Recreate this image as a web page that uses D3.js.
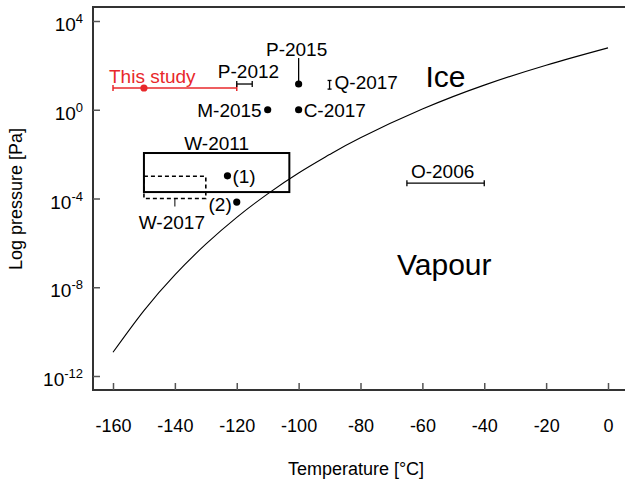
<!DOCTYPE html>
<html>
<head>
<meta charset="utf-8">
<script src="https://cdn.jsdelivr.net/npm/d3@7"></script>
<style>
  body { margin: 0; background: #fff; }
  svg { font-family: "Liberation Sans", Arial, sans-serif; }
</style>
</head>
<body>
<div id="chart"></div>
<script>
// axis ticks
const tempTicks = [-160, -140, -120, -100, -80, -60, -40, -20, 0];
const pressureExps = [4, 0, -4, -8, -12];

// ice / vapour boundary (log10 Pa)
const curveTemps = [-160, -150, -140, -130, -120, -110, -100, -90, -80, -60, -40, -20, 0];
const curveLogP = [-10.93, -9.05, -7.44, -6.06, -4.85, -3.79, -2.85, -2.02, -1.26, 0.03, 1.11, 2.01, 2.79];

// single points
const pointNames = ["This study", "P-2015", "M-2015", "C-2017", "(1)", "(2)"];
const pointTemps = [-150, -100, -110, -100, -123, -120];
const pointLogP = [0.98, 1.16, 0, 0, -2.98, -4.16];

// horizontal ranges (temperature)
const rangeNames = ["This study", "P-2012", "O-2006"];
const rangeLo = [-160, -120, -65];
const rangeHi = [-120, -115, -40];
const rangeLogP = [0.98, 1.16, -3.31];

// vertical ranges (pressure)
const vrangeNames = ["P-2015", "Q-2017"];
const vrangeTemps = [-100, -90];
const vrangeLo = [1.16, 0.93];
const vrangeHi = [2.33, 1.32];

// boxes
const boxNames = ["W-2011", "W-2017"];
const boxTLo = [-150, -150];
const boxTHi = [-103, -130];
const boxPLo = [-3.71, -4.0];
const boxPHi = [-1.95, -3.0];

function drawChart(id) {
  const w = 625;
  const h = 484;
  const red = "#e8282b";
  const left = 93, top = 7, bottom = 390;

  const svg = d3.select(`#${id}`).append("svg")
    .attr("width", w).attr("height", h);

  const x = d3.scaleLinear().domain([-160, 0]).range([113, 608]);
  const y = d3.scaleLog().domain([1e-12, 1e4]).range([376, 21]);
  const yl = (v) => y(Math.pow(10, v));

  // frame: left, top, bottom
  svg.append("path")
    .attr("d", `M${w + 10},${top}H${left}V${bottom}H${w + 10}`)
    .attr("fill", "none").attr("stroke", "#333").attr("stroke-width", 2);

  // x axis
  const xAxis = svg.append("g")
    .attr("transform", `translate(0,${bottom})`)
    .call(d3.axisBottom(x).tickValues(tempTicks).tickSizeInner(-7).tickSizeOuter(0).tickPadding(29).tickFormat(d3.format("d")));
  xAxis.select(".domain").remove();
  xAxis.selectAll("line").attr("stroke", "#555").attr("stroke-width", 1.5);
  xAxis.selectAll("text").attr("font-size", 18).attr("fill", "#000")
    .attr("font-family", "Liberation Sans, Arial, sans-serif").text((d) => d === 0 ? "0" : "-" + Math.abs(d));

  // y axis
  const yAxis = svg.append("g")
    .attr("transform", `translate(${left},0)`)
    .call(d3.axisLeft(y).tickValues(pressureExps.map((e) => Math.pow(10, e))).tickSizeInner(-7).tickSizeOuter(0).tickFormat(""));
  yAxis.select(".domain").remove();
  yAxis.selectAll("line").attr("stroke", "#555").attr("stroke-width", 1.5);

  const yLab = svg.append("g").selectAll("text")
    .data(pressureExps).enter().append("text")
    .attr("x", 83).attr("y", (d) => yl(d) + 10)
    .attr("text-anchor", "end").attr("font-size", 19);
  yLab.append("tspan").text("10");
  yLab.append("tspan").attr("font-size", 13).attr("dy", -8).text((d) => d);

  // axis titles
  svg.append("text").attr("x", 356).attr("y", 475)
    .attr("text-anchor", "middle").attr("font-size", 18).text("Temperature [°C]");
  svg.append("text").attr("transform", "translate(22,199) rotate(-90)")
    .attr("text-anchor", "middle").attr("font-size", 18).text("Log pressure [Pa]");

  // boundary curve
  const line = d3.line()
    .x((d, i) => x(curveTemps[i]))
    .y((d) => yl(d))
    .curve(d3.curveNatural);
  svg.append("path").datum(curveLogP).attr("d", line)
    .attr("fill", "none").attr("stroke", "#000").attr("stroke-width", 1.1);

  // boxes
  boxNames.forEach((name, i) => {
    const r = svg.append("rect")
      .attr("x", x(boxTLo[i])).attr("y", yl(boxPHi[i]))
      .attr("width", x(boxTHi[i]) - x(boxTLo[i]))
      .attr("height", yl(boxPLo[i]) - yl(boxPHi[i]))
      .attr("fill", "none").attr("stroke", "#000");
    if (name === "W-2017") {
      r.attr("stroke-width", 1.6).attr("stroke-dasharray", "4,3");
    } else {
      r.attr("stroke-width", 2);
    }
  });
  svg.append("text").attr("x", (x(boxTLo[0]) + x(boxTHi[0])) / 2).attr("y", yl(boxPHi[0]) - 3)
    .attr("text-anchor", "middle").attr("font-size", 19).text(boxNames[0]);
  const w17x = x(-140);
  svg.append("line").attr("x1", w17x).attr("x2", w17x)
    .attr("y1", yl(boxPLo[1])).attr("y2", yl(boxPLo[1]) + 8)
    .attr("stroke", "#000").attr("stroke-width", 1);
  svg.append("text").attr("x", w17x - 3).attr("y", yl(boxPLo[1]) + 30)
    .attr("text-anchor", "middle").attr("font-size", 19).text(boxNames[1]);

  // horizontal ranges
  rangeNames.forEach((name, i) => {
    const col = name === "This study" ? red : "#000";
    const g = svg.append("g").attr("stroke", col).attr("stroke-width", name === "This study" ? 1.5 : 1.3);
    const yy = yl(rangeLogP[i]);
    g.append("line").attr("x1", x(rangeLo[i])).attr("x2", x(rangeHi[i])).attr("y1", yy).attr("y2", yy);
    [rangeLo[i], rangeHi[i]].forEach((t) => {
      g.append("line").attr("x1", x(t)).attr("x2", x(t)).attr("y1", yy - 3).attr("y2", yy + 3);
    });
  });

  // vertical ranges
  vrangeNames.forEach((name, i) => {
    const xx = x(vrangeTemps[i]);
    const g = svg.append("g").attr("stroke", "#000").attr("stroke-width", 1.3);
    g.append("line").attr("x1", xx).attr("x2", xx).attr("y1", yl(vrangeLo[i])).attr("y2", yl(vrangeHi[i]));
    if (name === "Q-2017") {
      [vrangeLo[i], vrangeHi[i]].forEach((p) => {
        g.append("line").attr("x1", xx - 2).attr("x2", xx + 2).attr("y1", yl(p)).attr("y2", yl(p));
      });
    }
  });

  // points
  svg.append("g").selectAll("circle")
    .data(pointNames).enter().append("circle")
    .attr("cx", (d, i) => x(pointTemps[i]))
    .attr("cy", (d, i) => yl(pointLogP[i]))
    .attr("r", 3.6)
    .attr("fill", (d) => d === "This study" ? red : "#000");

  // labels
  const lab = (txt, px, py, anchor, col) => svg.append("text")
    .attr("x", px).attr("y", py).attr("text-anchor", anchor)
    .attr("font-size", 19).attr("fill", col || "#000").text(txt);

  lab("This study", x(rangeLo[0]) - 4, yl(rangeLogP[0]) - 5, "start", red);
  lab("P-2012", (x(rangeLo[1]) + x(rangeHi[1])) / 2 + 4, yl(rangeLogP[1]) - 6, "middle");
  lab("O-2006", (x(rangeLo[2]) + x(rangeHi[2])) / 2 - 3, yl(rangeLogP[2]) - 5, "middle");
  lab("P-2015", x(vrangeTemps[0]) - 2, yl(vrangeHi[0]) - 2, "middle");
  lab("Q-2017", x(vrangeTemps[1]) + 5, yl((vrangeLo[1] + vrangeHi[1]) / 2) + 4, "start");
  lab("M-2015", x(pointTemps[2]) - 6, yl(pointLogP[2]) + 7, "end");
  lab("C-2017", x(pointTemps[3]) + 5, yl(pointLogP[3]) + 7, "start");
  lab("(1)", x(pointTemps[4]) + 5, yl(pointLogP[4]) + 7, "start");
  lab("(2)", x(pointTemps[5]) - 5, yl(pointLogP[5]) + 9, "end");

  // region names
  svg.append("text").attr("x", x(-59)).attr("y", yl(1.04))
    .attr("font-size", 30).text("Ice");
  svg.append("text").attr("x", x(-68.2)).attr("y", yl(-7.44))
    .attr("font-size", 30).text("Vapour");
}

document.addEventListener("DOMContentLoaded", function () {
  drawChart("chart");
});
</script>
</body>
</html>
